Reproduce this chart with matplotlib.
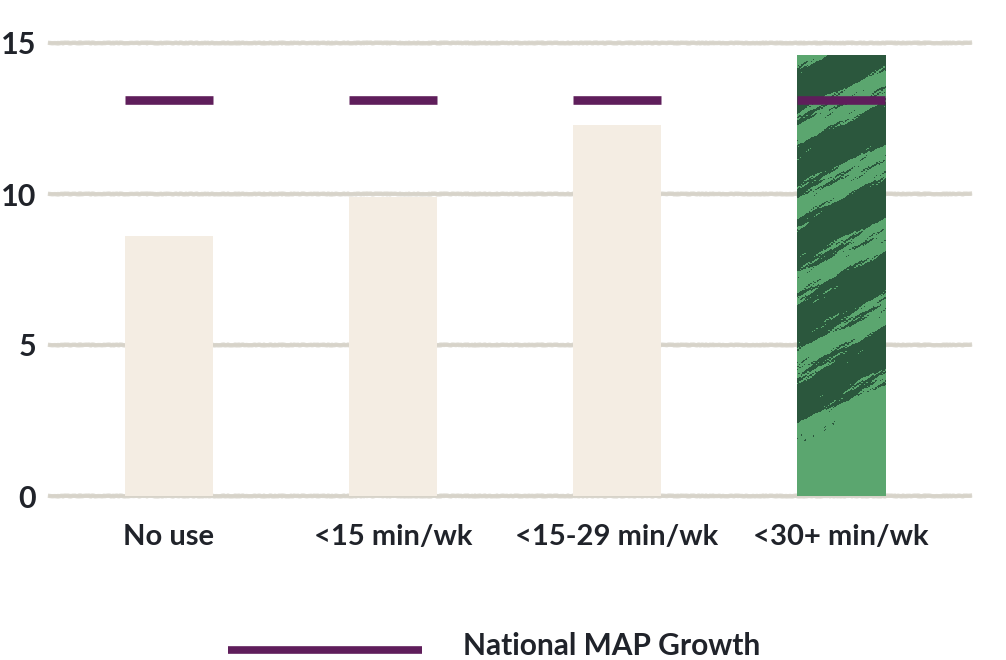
import numpy as np
import matplotlib
matplotlib.use("Agg")
import matplotlib.pyplot as plt
from matplotlib.colors import ListedColormap
from matplotlib.lines import Line2D

# chart data
categories = ["No use", "<15 min/wk", "<15-29 min/wk", "<30+ min/wk"]
growth = [8.6, 9.9, 12.3, 14.6]
national_growth = 13.1
y_ticks = [0, 5, 10, 15]
legend_label = "National MAP Growth"

# colours
cream = "#f4ede3"
green_light = "#5ba66f"
green_dark = "#2b573d"
purple = "#5f1e5b"
grid_col = "#d7d3c9"
text_col = "#20232a"

plt.rcParams["font.family"] = ["Lato", "DejaVu Sans"]
plt.rcParams["font.weight"] = "bold"

fig = plt.figure(figsize=(10.06, 6.6), dpi=100)
ax = fig.add_axes([50 / 1006, 164 / 660, 920 / 1006, 453 / 660])

x = np.arange(len(categories))
bar_w = 0.393
colors = [cream, cream, cream, green_light]
bars = ax.bar(x, growth, width=bar_w, color=colors, zorder=2)

# brush-stroke texture on the highlighted bar (drawn in pixel-ish units)
hb = bars[-1]
x0, w, h = hb.get_x(), hb.get_width(), hb.get_height()
px, py = np.meshgrid(np.arange(88), np.arange(int(h * 30.2)))
ang = np.deg2rad(30)
along = px * np.cos(ang) + py * np.sin(ang)
across = -px * np.sin(ang) + py * np.cos(ang)
f = (np.sin(2 * np.pi * across / 66)
     + 0.40 * np.sin(2 * np.pi * (across / 23 + along / 150))
     + 0.30 * np.sin(2 * np.pi * (across / 11.3 - along / 87))
     + 0.22 * np.sin(2 * np.pi * (across / 5.3 + along / 41))
     + 0.16 * np.sin(2 * np.pi * (across / 3.1 - along / 17))
     + 0.12 * np.sin(2 * np.pi * (px / 4.7 + py / 3.3)))
edge = 48 + 4 * np.sin(2 * np.pi * px / 9.7) + 3 * np.sin(2 * np.pi * px / 4.1)
dark = (f > -0.35) & (across > edge)
tex = ax.imshow(dark.astype(float), cmap=ListedColormap([green_light, green_dark]),
                extent=(x0, x0 + w, 0, h), origin="lower", aspect="auto",
                interpolation="nearest", zorder=2.5)
tex.set_clip_path(hb)

# national growth markers
ax.hlines([national_growth] * len(x), x - bar_w / 2, x + bar_w / 2,
          color=purple, linewidth=6.2, zorder=3)

# rough gridlines
for t in y_ticks:
    ax.axhline(t, color=grid_col, linewidth=2.6, zorder=1, clip_on=False)
    ln = ax.axhline(t, color=grid_col, linewidth=3.2, alpha=0.6, zorder=1, clip_on=False)
    ln.set_sketch_params(scale=0.6, length=3, randomness=8)

ax.set_xlim(-0.531, 3.576)
ax.set_ylim(0, 15)
ax.set_yticks(y_ticks)
ax.set_xticks(x)
ax.set_xticklabels(categories)
ax.tick_params(axis="both", length=0, colors=text_col)
ax.tick_params(axis="y", pad=10, labelsize=22)
ax.tick_params(axis="x", pad=20, labelsize=21)
for s in ax.spines.values():
    s.set_visible(False)

# legend at bottom
fig.add_artist(Line2D([228 / 1006, 422 / 1006], [1 - 650 / 660, 1 - 650 / 660],
                      color=purple, linewidth=5.5, solid_capstyle="butt",
                      transform=fig.transFigure))
fig.text(463 / 1006, 1 - 646 / 660, legend_label, fontsize=21.5,
         color=text_col, va="center", ha="left", fontweight="bold")

fig.savefig("out.png", dpi=100)
